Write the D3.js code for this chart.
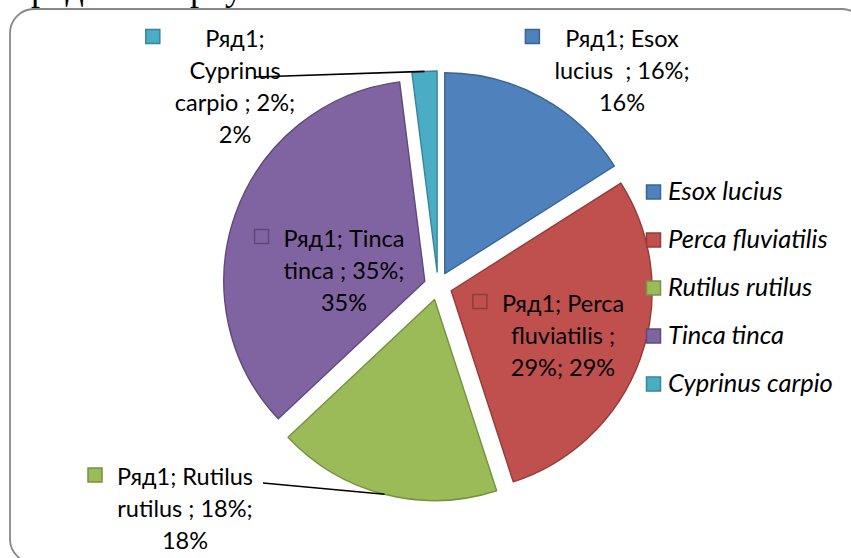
<!DOCTYPE html>
<html><head><meta charset="utf-8">
<script src="https://cdn.jsdelivr.net/npm/d3@7"></script>
<style>
html,body{margin:0;padding:0;background:#fff;}
svg{display:block;}
</style></head>
<body>
<svg id="chart" width="851" height="558"></svg>
<script>
// ---- data ----
const seriesName = "Ряд1";
const categories = ["Esox lucius", "Perca fluviatilis", "Rutilus rutilus", "Tinca tinca", "Cyprinus carpio"];
const values = [16, 29, 18, 35, 2];
const labelLines = [
  ["Ряд1; Esox", "lucius  ; 16%;", "16%"],
  ["Ряд1; Perca", "fluviatilis ;", "29%; 29%"],
  ["Ряд1; Rutilus", "rutilus ; 18%;", "18%"],
  ["Ряд1; Tinca", "tinca ; 35%;", "35%"],
  ["Ряд1;", "Cyprinus", "carpio ; 2%;", "2%"]
];

// ---- styles / layout ----
const fills   = ["#4F81BD", "#C0504D", "#9BBB59", "#8064A2", "#4BACC6"];
const strokes = ["#3A6496", "#943B39", "#76923F", "#5E4A7A", "#36869B"];
const cx = 438, cy = 286, R = 201, explode = 14;
const fontFam = "Lato, 'Open Sans', sans-serif";
const fontSize = 23.5, legendFontSize = 25.5, lineH = 32;
// label anchors: text centre x, first baseline y, optional leader start
const labelLayout = [
  {x: 622, y: 46.5},
  {x: 563, y: 311.5},
  {x: 185, y: 485, leader: [263, 483]},
  {x: 344, y: 246.5},
  {x: 235, y: 46.5, leader: [255, 77]}
];

const svg = d3.select("#chart");

// partial document text above the chart (cropped, as in the source)
svg.append("text").attr("x", 31).attr("y", 0).attr("font-family", "'Liberation Serif', serif")
  .attr("font-size", 36).attr("fill", "#000").text("ряд");
svg.append("text").attr("x", 190).attr("y", 0).attr("font-family", "'Liberation Serif', serif")
  .attr("font-size", 36).attr("fill", "#000").text("рку");

// frame
svg.append("rect").attr("x", 10).attr("y", 9).attr("width", 856).attr("height", 554)
  .attr("rx", 24).attr("ry", 24).attr("fill", "#fff")
  .attr("stroke", "#878787").attr("stroke-width", 1.8);

const data = categories.map((c, i) => ({cat: c, value: values[i], i}));
const pie = d3.pie().sort(null).value(d => d.value).startAngle(0).endAngle(2 * Math.PI);
const arcs = pie(data);
const arc = d3.arc().innerRadius(0).outerRadius(R);

function offset(a, d) {
  const m = (a.startAngle + a.endAngle) / 2;
  return [Math.sin(m) * d, -Math.cos(m) * d];
}

const g = svg.append("g").attr("transform", `translate(${cx},${cy})`);
g.selectAll("path.slice").data(arcs).enter().append("path")
  .attr("class", "slice")
  .attr("transform", d => { const o = offset(d, explode); return `translate(${o[0]},${o[1]})`; })
  .attr("d", arc)
  .attr("fill", d => fills[d.data.i])
  .attr("stroke", d => strokes[d.data.i])
  .attr("stroke-width", 1.4)
  .attr("stroke-linejoin", "round");

// leader lines
arcs.forEach(a => {
  const L = labelLayout[a.data.i];
  if (!L.leader) return;
  const o = offset(a, explode);
  const e = offset(a, R);
  svg.append("line")
    .attr("x1", L.leader[0]).attr("y1", L.leader[1])
    .attr("x2", cx + o[0] + e[0]).attr("y2", cy + o[1] + e[1])
    .attr("stroke", "#000").attr("stroke-width", 1.6);
});

// data labels
arcs.forEach(a => {
  const i = a.data.i, L = labelLayout[i];
  const lg = svg.append("g");
  const t = lg.append("text")
    .attr("font-family", fontFam).attr("font-size", fontSize)
    .attr("fill", "#000").attr("text-anchor", "middle")
    .style("white-space", "pre");
  labelLines[i].forEach((s, k) => {
    t.append("tspan").attr("x", L.x).attr("y", L.y + k * lineH).text(s);
  });
  let maxW = 0;
  t.selectAll("tspan").each(function () { maxW = Math.max(maxW, this.getComputedTextLength()); });
  const left = L.x - maxW / 2;
  lg.append("rect")
    .attr("x", left - 29).attr("y", L.y - 17)
    .attr("width", 14).attr("height", 14)
    .attr("fill", fills[i]).attr("stroke", strokes[i]).attr("stroke-width", 1.5);
});

// legend
const legend = svg.append("g").attr("transform", "translate(646,0)");
const ly = d3.scalePoint().domain(categories).range([192, 384]);
categories.forEach((c, i) => {
  const y = ly(c);
  legend.append("rect").attr("x", 0.5).attr("y", y - 7).attr("width", 14).attr("height", 14)
    .attr("fill", fills[i]).attr("stroke", strokes[i]).attr("stroke-width", 1.5);
  legend.append("text").attr("x", 22).attr("y", y + 8)
    .attr("font-family", fontFam).attr("font-style", "italic").attr("font-size", legendFontSize)
    .attr("fill", "#000").text(c);
});
</script>
</body></html>
